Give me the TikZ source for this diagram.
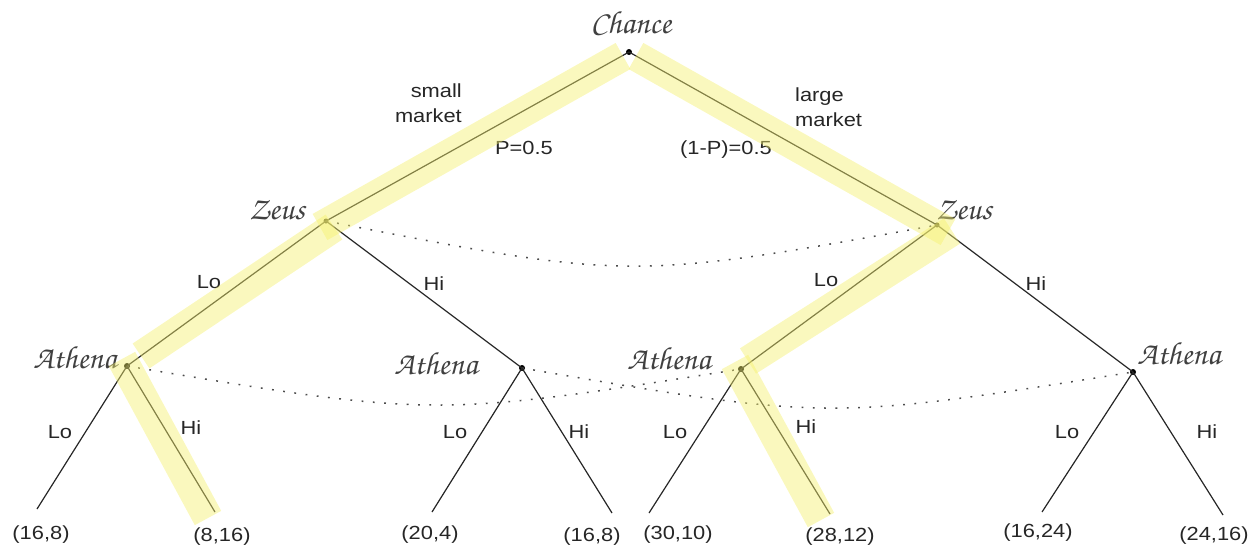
\documentclass[tikz,border=0pt]{standalone}
\usepackage[T1]{fontenc}
\usepackage{fontspec}
\setmainfont{Liberation Sans}[FakeStretch=1.15]
\newcommand\scrname{\fontencoding{T1}\fontfamily{pzc}\fontseries{mb}\fontshape{it}\selectfont}
\definecolor{bandyellow}{RGB}{245,240,110}
\begin{document}
\begin{tikzpicture}[x=1pt,y=-1pt,
  edge/.style={line width=1.2pt, black!85},
  band/.style={line width=30pt, color=bandyellow, opacity=0.45},
  info/.style={dash pattern=on 1.8pt off 9.5pt, line width=1.5pt, black!70},
  dec/.style={circle, fill=black, inner sep=0pt, minimum size=6pt},
  lab/.style={font=\fontsize{19}{25}\selectfont, inner sep=0pt, text=black!85},
  pl/.style={font=\scrname\fontsize{32}{32}\selectfont, inner sep=0pt, text=black!75}]
\useasboundingbox (0,0) rectangle (1249,549);

% decision nodes
\node[dec] (C) at (629,52) {};
\node[dec,minimum size=5pt] (Z1) at (326,221) {};
\node[dec,minimum size=5pt] (Z2) at (937,225) {};
\node[dec] (A1) at (127,366) {};
\node[dec] (A2) at (522,368) {};
\node[dec] (A3) at (741,369) {};
\node[dec] (A4) at (1133,372) {};
% leaves
\coordinate (L1) at (37,509);
\coordinate (L2) at (215,512);
\coordinate (L3) at (432,512);
\coordinate (L4) at (612,513);
\coordinate (L5) at (649,513);
\coordinate (L6) at (830,514);
\coordinate (L7) at (1042,512);
\coordinate (L8) at (1223,515);

% information sets
\draw[info] (Z1.center) .. controls (630,280.5) .. (Z2.center);
\draw[info] (A1.center) .. controls (434,417.5) .. (A3.center);
\draw[info] (A2.center) .. controls (828,420.7) .. (A4.center);

% edges
\draw[edge] (C.center) -- (Z1.center);
\draw[edge] (C.center) -- (Z2.center);
\draw[edge] (Z1.center) -- (A1.center);
\draw[edge] (Z1.center) -- (A2.center);
\draw[edge] (Z2.center) -- (A3.center);
\draw[edge] (Z2.center) -- (A4.center);
\draw[edge] (A1.center) -- (L1);
\draw[edge] (A1.center) -- (L2);
\draw[edge] (A2.center) -- (L3);
\draw[edge] (A2.center) -- (L4);
\draw[edge] (A3.center) -- (L5);
\draw[edge] (A3.center) -- (L6);
\draw[edge] (A4.center) -- (L7);
\draw[edge] (A4.center) -- (L8);

% player names
\node[pl] (nC) at (631,22) {Chance};
\node[pl] (nZ1) at (277,210) {Zeus};
\node[pl] (nZ2) at (964,210) {Zeus};
\node[pl] (nA1) at (75,357) {Athena};
\node[pl] (nA2) at (436,363) {Athena};
\node[pl] (nA3) at (669,358) {Athena};
\node[pl] (nA4) at (1179,353) {Athena};

% move labels
\node[lab, align=right, anchor=north east] (sm) at (462,84) {small\\market};
\node[lab, align=left, anchor=north west] (lm) at (795,88) {large\\market};
\node[lab, anchor=base] (p1) at (524,154) {P=0.5};
\node[lab, anchor=base] (p2) at (726,154) {(1-P)=0.5};
\node[lab] (lo1) at (209,282) {Lo};
\node[lab] (hi1) at (434,284) {Hi};
\node[lab] (lo2) at (826,280) {Lo};
\node[lab] (hi2) at (1036,284) {Hi};
\node[lab] (lo3) at (60,432) {Lo};
\node[lab] (hi3) at (191,428) {Hi};
\node[lab] (lo4) at (455,432) {Lo};
\node[lab] (hi4) at (579,432) {Hi};
\node[lab] (lo5) at (675,432) {Lo};
\node[lab] (hi5) at (806,427) {Hi};
\node[lab] (lo6) at (1067,432) {Lo};
\node[lab] (hi6) at (1207,432) {Hi};

% payoffs
\node[lab] (o1) at (41,535) {(16,8)};
\node[lab] (o2) at (222,537) {(8,16)};
\node[lab] (o3) at (430,535) {(20,4)};
\node[lab] (o4) at (592,537) {(16,8)};
\node[lab] (o5) at (678,535) {(30,10)};
\node[lab] (o6) at (840,537) {(28,12)};
\node[lab] (o7) at (1038,533) {(16,24)};
\node[lab] (o8) at (1214,536) {(24,16)};

% highlighted path
\draw[band] (623,56) -- (320,227);
\draw[band] (334,227) -- (141,356);
\draw[band] (122,359) -- (208,518);
\draw[band] (636,56) -- (948,232);
\draw[band] (952,231) -- (748,361);
\draw[band] (735,362) -- (821,520);
\end{tikzpicture}
\end{document}
